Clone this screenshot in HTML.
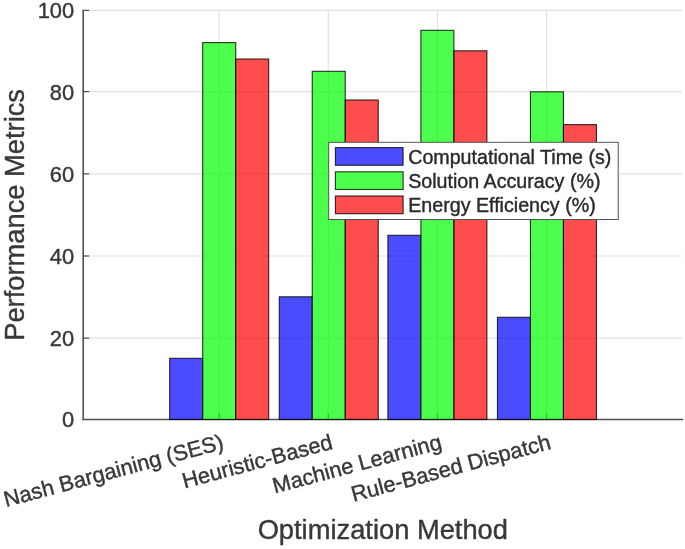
<!DOCTYPE html>
<html><head><meta charset="utf-8"><title>Chart</title>
<style>html,body{margin:0;padding:0;background:#fff;overflow:hidden}body{width:685px;height:549px;font-family:"Liberation Sans",sans-serif}</style>
</head><body>
<svg width="685" height="549" viewBox="0 0 685 549" style="display:block;filter:blur(0.35px);font-family:'Liberation Sans',sans-serif">
<style>text{stroke-width:0.4px;stroke-linejoin:round}</style>
<rect width="685" height="549" fill="#fff"/>
<line x1="83.2" x2="681.8" y1="338.20" y2="338.20" stroke="#e2e2e2" stroke-width="1.2"/>
<line x1="83.2" x2="681.8" y1="256.00" y2="256.00" stroke="#e2e2e2" stroke-width="1.2"/>
<line x1="83.2" x2="681.8" y1="173.80" y2="173.80" stroke="#e2e2e2" stroke-width="1.2"/>
<line x1="83.2" x2="681.8" y1="91.60" y2="91.60" stroke="#e2e2e2" stroke-width="1.2"/>
<line x1="83.2" x2="681.8" y1="10.40" y2="10.40" stroke="#e2e2e2" stroke-width="1.2"/>
<line x1="219.2" x2="219.2" y1="10.40" y2="419.5" stroke="#e2e2e2" stroke-width="1.2"/>
<line x1="328.3" x2="328.3" y1="10.40" y2="419.5" stroke="#e2e2e2" stroke-width="1.2"/>
<line x1="437.4" x2="437.4" y1="10.40" y2="419.5" stroke="#e2e2e2" stroke-width="1.2"/>
<line x1="546.6" x2="546.6" y1="10.40" y2="419.5" stroke="#e2e2e2" stroke-width="1.2"/>
<line x1="219.2" x2="219.2" y1="419.5" y2="413.5" stroke="#505050" stroke-width="1.2"/>
<line x1="328.3" x2="328.3" y1="419.5" y2="413.5" stroke="#505050" stroke-width="1.2"/>
<line x1="437.4" x2="437.4" y1="419.5" y2="413.5" stroke="#505050" stroke-width="1.2"/>
<line x1="546.6" x2="546.6" y1="419.5" y2="413.5" stroke="#505050" stroke-width="1.2"/>
<path d="M82.45 419.5H683.3" stroke="#505050" stroke-width="1.6" fill="none"/>
<rect x="169.70" y="358.30" width="33.0" height="61.20" fill="#0000ff" fill-opacity="0.7" stroke="#000" stroke-opacity="0.8" stroke-width="1.1"/>
<rect x="202.70" y="42.60" width="33.0" height="376.90" fill="#00ff00" fill-opacity="0.7" stroke="#000" stroke-opacity="0.8" stroke-width="1.1"/>
<rect x="235.70" y="59.00" width="33.0" height="360.50" fill="#ff0000" fill-opacity="0.7" stroke="#000" stroke-opacity="0.8" stroke-width="1.1"/>
<rect x="279.25" y="296.80" width="33.0" height="122.70" fill="#0000ff" fill-opacity="0.7" stroke="#000" stroke-opacity="0.8" stroke-width="1.1"/>
<rect x="312.25" y="71.30" width="33.0" height="348.20" fill="#00ff00" fill-opacity="0.7" stroke="#000" stroke-opacity="0.8" stroke-width="1.1"/>
<rect x="345.25" y="100.00" width="33.0" height="319.50" fill="#ff0000" fill-opacity="0.7" stroke="#000" stroke-opacity="0.8" stroke-width="1.1"/>
<rect x="387.90" y="235.30" width="33.0" height="184.20" fill="#0000ff" fill-opacity="0.7" stroke="#000" stroke-opacity="0.8" stroke-width="1.1"/>
<rect x="420.90" y="30.30" width="33.0" height="389.20" fill="#00ff00" fill-opacity="0.7" stroke="#000" stroke-opacity="0.8" stroke-width="1.1"/>
<rect x="453.90" y="50.80" width="33.0" height="368.70" fill="#ff0000" fill-opacity="0.7" stroke="#000" stroke-opacity="0.8" stroke-width="1.1"/>
<rect x="497.45" y="317.30" width="33.0" height="102.20" fill="#0000ff" fill-opacity="0.7" stroke="#000" stroke-opacity="0.8" stroke-width="1.1"/>
<rect x="530.45" y="91.80" width="33.0" height="327.70" fill="#00ff00" fill-opacity="0.7" stroke="#000" stroke-opacity="0.8" stroke-width="1.1"/>
<rect x="563.45" y="124.60" width="33.0" height="294.90" fill="#ff0000" fill-opacity="0.7" stroke="#000" stroke-opacity="0.8" stroke-width="1.1"/>
<path d="M83.2 9.80V420.25" stroke="#505050" stroke-width="1.6" fill="none"/>
<text x="74.2" y="427.00" font-size="21.9" fill="#383838" stroke="#383838" text-anchor="end">0</text>
<line x1="83.2" x2="89.2" y1="338.20" y2="338.20" stroke="#505050" stroke-width="1.2"/>
<text x="74.2" y="346.30" font-size="21.9" fill="#383838" stroke="#383838" text-anchor="end">20</text>
<line x1="83.2" x2="89.2" y1="256.00" y2="256.00" stroke="#505050" stroke-width="1.2"/>
<text x="74.2" y="264.10" font-size="21.9" fill="#383838" stroke="#383838" text-anchor="end">40</text>
<line x1="83.2" x2="89.2" y1="173.80" y2="173.80" stroke="#505050" stroke-width="1.2"/>
<text x="74.2" y="181.90" font-size="21.9" fill="#383838" stroke="#383838" text-anchor="end">60</text>
<line x1="83.2" x2="89.2" y1="91.60" y2="91.60" stroke="#505050" stroke-width="1.2"/>
<text x="74.2" y="99.70" font-size="21.9" fill="#383838" stroke="#383838" text-anchor="end">80</text>
<line x1="83.2" x2="89.2" y1="10.40" y2="10.40" stroke="#505050" stroke-width="1.2"/>
<text x="74.2" y="17.50" font-size="21.9" fill="#383838" stroke="#383838" text-anchor="end">100</text>
<text transform="translate(224.7,448.5) rotate(-15)" font-size="21.9" fill="#383838" stroke="#383838" text-anchor="end">Nash Bargaining (SES)</text>
<text transform="translate(333.8,448.5) rotate(-15)" font-size="21.9" fill="#383838" stroke="#383838" text-anchor="end">Heuristic-Based</text>
<text transform="translate(442.9,448.5) rotate(-15)" font-size="21.9" fill="#383838" stroke="#383838" text-anchor="end">Machine Learning</text>
<text transform="translate(552.1,448.5) rotate(-15)" font-size="21.9" fill="#383838" stroke="#383838" text-anchor="end">Rule-Based Dispatch</text>
<text x="382.8" y="539.2" font-size="27.3" fill="#383838" stroke="#383838" text-anchor="middle">Optimization Method</text>
<text transform="translate(23.8,214.9) rotate(-90)" font-size="27.3" fill="#383838" stroke="#383838" text-anchor="middle">Performance Metrics</text>
<rect x="328.7" y="142.3" width="289.5" height="77.2" fill="#fff" stroke="#555" stroke-width="1"/>
<rect x="335.4" y="147.60" width="67.7" height="17.7" fill="#0000ff" fill-opacity="0.7" stroke="#000" stroke-opacity="0.8" stroke-width="1.1"/>
<text x="408.2" y="164.00" font-size="19.66" fill="#2a2a2a" stroke="#2a2a2a">Computational Time (s)</text>
<rect x="335.4" y="171.80" width="67.7" height="17.7" fill="#00ff00" fill-opacity="0.7" stroke="#000" stroke-opacity="0.8" stroke-width="1.1"/>
<text x="408.2" y="188.20" font-size="19.66" fill="#2a2a2a" stroke="#2a2a2a">Solution Accuracy (%)</text>
<rect x="335.4" y="196.00" width="67.7" height="17.7" fill="#ff0000" fill-opacity="0.7" stroke="#000" stroke-opacity="0.8" stroke-width="1.1"/>
<text x="408.2" y="212.40" font-size="19.66" fill="#2a2a2a" stroke="#2a2a2a">Energy Efficiency (%)</text>
</svg>
</body></html>
